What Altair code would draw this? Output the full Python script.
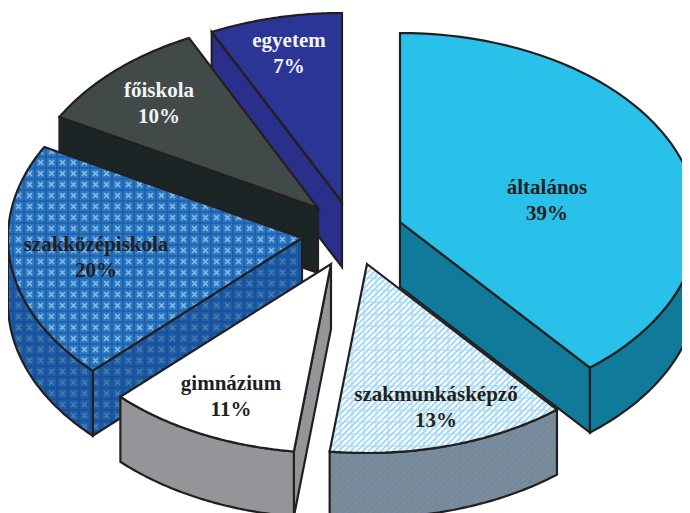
import math
import altair as alt

# --- data -----------------------------------------------------------------
categories = ["általános", "szakmunkásképző", "gimnázium", "szakközépiskola", "főiskola", "egyetem"]
shares = [39.0, 13.0, 10.6, 20.4, 9.8, 7.2]
shown_percent = ["39%", "13%", "11%", "20%", "10%", "7%"]
label_colors = ["#231f20", "#231f20", "#231f20", "#231f20", "#f4f4f6", "#f4f4f6"]

# --- layout / style -------------------------------------------------------
RY, DEPTH = 189.0, 65.0
radius_x = [298.0, 298.0, 296.0, 294.0, 295.0, 298.0]
apex_x = [400, 367, 331, 302, 318, 342]
apex_y = [222, 264, 264, 238, 208, 202]
label_x = [547, 436, 231, 96, 159, 289]
label_y = [196, 403, 392, 253, 99, 49]
INK = "#231f20"
styles = {
    "általános": dict(top="#29c0ea", side="#0f7a9a"),
    "szakmunkásképző": dict(top="#ffffff", side="#878b8e"),
    "gimnázium": dict(top="#ffffff", side="#939598"),
    "szakközépiskola": dict(top="#2f78c0", side="#1f5ba6"),
    "főiskola": dict(top="#414a48", side="#1c2526"),
    "egyetem": dict(top="#2b3595", side="#2b2f8c"),
}


def pt(i, t):
    a = math.radians(t)
    return (apex_x[i] + radius_x[i] * math.sin(a), apex_y[i] - RY * math.cos(a))


def arc(i, t0, t1, n=60):
    return [pt(i, t0 + (t1 - t0) * k / n) for k in range(n + 1)]


def drop(points):
    return [(x, y + DEPTH) for x, y in points]


def clip(seg, poly):
    (x0, y0), (x1, y1) = seg
    dx, dy = x1 - x0, y1 - y0
    ts = [0.0, 1.0]
    for (ax, ay), (bx, by) in zip(poly, poly[1:] + poly[:1]):
        ex, ey = bx - ax, by - ay
        den = dx * ey - dy * ex
        if abs(den) < 1e-9:
            continue
        t = ((ax - x0) * ey - (ay - y0) * ex) / den
        u = ((ax - x0) * dy - (ay - y0) * dx) / den
        if 0 < t < 1 and 0 <= u < 1:
            ts.append(t)
    ts.sort()

    def inside(x, y):
        c = False
        for (ax, ay), (bx, by) in zip(poly, poly[1:] + poly[:1]):
            if (ay > y) != (by > y) and x < ax + (y - ay) * (bx - ax) / (by - ay):
                c = not c
        return c

    out = []
    for a, b in zip(ts, ts[1:]):
        m = (a + b) / 2
        if inside(x0 + dx * m, y0 + dy * m):
            out.append([[x0 + dx * a, y0 + dy * a], [x0 + dx * b, y0 + dy * b]])
    return out


def lines(segs, poly):
    out = []
    for s in segs:
        out += clip(s, poly)
    return out


def stripes(step=6.0):
    segs = []
    k = -600.0
    while k < 1300:
        segs.append(((k, 520.0), (k + 520.0, 0.0)))
        k += step
    return segs


def grid(step, x0=0.0, y0=0.0):
    segs = []
    x = x0
    while x < 700:
        segs.append(((x, 0.0), (x, 520.0)))
        x += step
    y = y0
    while y < 520:
        segs.append(((0.0, y), (700.0, y)))
        y += step
    return segs


def crosses(step, r, x0=0.0, y0=0.0):
    segs = []
    nx, ny = int(700 / step) + 1, int(520 / step) + 1
    for a in range(nx):
        for b in range(ny):
            cx, cy = x0 + (a + 0.5) * step, y0 + (b + 0.5) * step
            segs.append(((cx - r, cy - r), (cx + r, cy + r)))
            segs.append(((cx - r, cy + r), (cx + r, cy - r)))
    return segs


features = []


def add_poly(poly, fill, stroke="transparent", sw=0.0):
    ring = [list(p) for p in poly] + [list(poly[0])]
    features.append({"type": "Feature",
                     "geometry": {"type": "Polygon", "coordinates": [ring]},
                     "properties": {"fill": fill, "stroke": stroke, "sw": sw}})


def add_lines(ml, color, sw):
    if ml:
        features.append({"type": "Feature",
                         "geometry": {"type": "MultiLineString", "coordinates": ml},
                         "properties": {"fill": "transparent", "stroke": color, "sw": sw}})


def pattern(poly, cat, is_top):
    if cat == "szakmunkásképző":
        if is_top:
            add_lines(lines(stripes(), poly), "#a6d9f3", 2.0)
            add_lines(lines(grid(12.0, 4.0, 2.0), poly), "#a6d9f3", 0.9)
        else:
            add_lines(lines(stripes(), poly), "#6b8ba6", 2.0)
            add_lines(lines(grid(12.0, 4.0, 2.0), poly), "#6b8ba6", 0.9)
    elif cat == "szakközépiskola":
        if is_top:
            add_lines(lines(grid(11.0, 2.0, 3.0), poly), "#1a5fae", 1.6)
            add_lines(lines(crosses(11.0, 2.4, 2.0, 3.0), poly), "#7fb8e4", 1.5)
        else:
            add_lines(lines(grid(11.0, 2.0, 3.0), poly), "#17509c", 1.6)
            add_lines(lines(crosses(11.0, 2.4, 2.0, 3.0), poly), "#4a80a8", 1.4)


def face(poly, cat, is_top):
    st = styles[cat]
    add_poly(poly, st["top"] if is_top else st["side"])
    pattern(poly, cat, is_top)
    add_poly(poly, "transparent", INK, 2.2)


bounds = []
acc = 0.0
for v in shares:
    bounds.append((acc * 3.6, (acc + v) * 3.6))
    acc += v

for i in [5, 4, 0, 3, 2, 1]:
    cat = categories[i]
    t0, t1 = bounds[i]
    apex = (apex_x[i], apex_y[i])
    # radial faces that are turned towards the viewer
    if cat in ("egyetem", "főiskola", "szakközépiskola", "általános", "gimnázium"):
        edge_t = t1 if cat == "általános" else t0
        e = [apex, pt(i, edge_t)]
        face(e + drop(e)[::-1], cat, False)
    # outer wall: only the front half of the ellipse shows
    w0, w1 = max(t0, 90.0), min(t1, 270.0)
    if w1 > w0:
        a = arc(i, w0, w1)
        face(a + drop(a)[::-1], cat, False)
    face([apex] + arc(i, t0, t1), cat, True)

proj = {"type": "identity", "scale": 1, "translate": [-8, -8]}

pie = (
    alt.Chart(alt.Data(values=features))
    .mark_geoshape(strokeJoin="miter", strokeMiterLimit=10)
    .encode(
        fill=alt.Fill("properties.fill:N", scale=None),
        stroke=alt.Stroke("properties.stroke:N", scale=None),
        strokeWidth=alt.StrokeWidth("properties.sw:Q", scale=None),
    )
    .project(**proj)
)

rows = []
for i, cat in enumerate(categories):
    rows.append({"t": cat, "x": label_x[i], "y": label_y[i] - 8, "c": label_colors[i]})
    rows.append({"t": shown_percent[i], "x": label_x[i], "y": label_y[i] + 18, "c": label_colors[i]})

texts = (
    alt.Chart(alt.Data(values=rows))
    .mark_text(font="Liberation Serif", fontWeight="bold", fontSize=21, align="center", baseline="middle")
    .encode(
        longitude="x:Q",
        latitude="y:Q",
        text="t:N",
        color=alt.Color("c:N", scale=None),
    )
    .project(**proj)
)

chart = (
    alt.layer(pie, texts)
    .properties(width=674, height=505, padding=0, autosize=alt.AutoSizeParams(type="none"))
    .configure_view(stroke=None)
)
chart.save("out.html", embed_options={"renderer": "svg", "actions": False})
